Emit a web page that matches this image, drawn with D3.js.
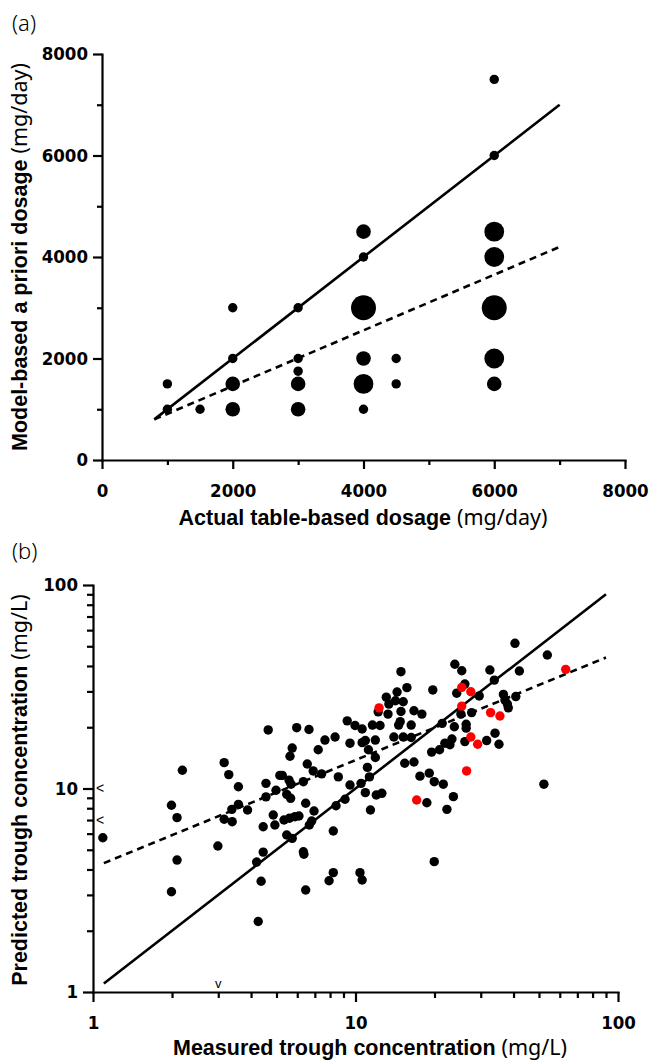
<!DOCTYPE html>
<html>
<head>
<meta charset="utf-8">
<script src="https://cdn.jsdelivr.net/npm/d3@7"></script>
<style>
  html, body { margin: 0; padding: 0; background: #fff; }
  svg { display: block; }
</style>
</head>
<body>
<svg id="chart" width="650" height="1060"></svg>
<script>
// --- Panel (a) data: dosage comparison (mg/day) ---
const dosageActual = [1000, 1000, 1500, 2000, 2000, 2000, 2000, 3000, 3000, 3000, 3000, 3000,
  4000, 4000, 4000, 4000, 4000, 4000, 4500, 4500, 6000, 6000, 6000, 6000, 6000, 6000, 6000];
const dosageModel = [1000, 1500, 1000, 1000, 1500, 2000, 3000, 1000, 1500, 1750, 2000, 3000,
  1000, 1500, 2000, 3000, 4000, 4500, 1500, 2000, 1500, 2000, 3000, 4000, 4500, 6000, 7500];
const dosageCount = [1, 1, 1, 2, 2, 1, 1, 2, 2, 1, 1, 1,
  1, 3, 2, 4, 1, 2, 1, 1, 2, 3, 4, 3, 3, 1, 1];
const dosageTicks = [0, 2000, 4000, 6000, 8000];
const dosageMinor = [1000, 3000, 5000, 7000];
const identityA = [800, 7000];
const regressionA = [[800, 800], [7000, 4200]];

// --- Panel (b) data: trough concentrations (mg/L) ---
const measuredBlack = [2.19, 4.65, 3.16, 3.29, 3.58, 4.56, 4.98, 5.15, 4.56, 1.99, 2.09, 1.09,
  3.38, 3.58, 3.88, 3.16, 3.39, 2.99, 4.45, 4.86, 4.93, 4.45, 4.2, 2.09, 4.37, 1.99, 4.26,
  6.55, 5.26, 5.58, 5.68, 5.47, 5.66, 6.33, 6.9, 7.43, 8.6, 11.1, 11.3, 9.53, 10.5, 10.9,
  12.0, 12.6, 15.4, 16.7, 17.6, 19.1, 19.95, 21.6, 18.7, 22.3, 6.46, 6.95, 8.43, 9.12, 11.4,
  5.34, 5.6, 5.88, 6.09, 6.81, 6.67, 5.47, 5.74, 8.23, 6.33, 6.36, 8.23, 7.93, 10.4, 10.6,
  6.46, 19.95, 14.9, 19.7, 15.7, 14.4, 13.1, 13.4, 14.2, 15.2, 12.2, 13.3, 14.9, 16.7, 17.9,
  14.8, 14.6, 16.3, 9.3, 9.96, 10.6, 11.6, 12.4, 5.97, 6.65, 14.0, 15.2, 16.3, 21.4, 8.36,
  7.65, 9.53, 10.6, 10.9, 11.9, 5.74, 5.63, 7.21, 11.2, 11.9, 21.9, 20.9, 19.5, 40.5, 53.8,
  23.9, 25.4, 32.5, 42.1, 33.8, 26.1, 24.3, 29.6, 36.6, 40.8, 37.1, 37.9, 38.2, 27.7, 25.2,
  23.8, 26.4, 26.4, 34.0, 26.1, 31.6, 35.2, 23.3, 22.9, 52.2, 23.6];
const predictedBlack = [12.3, 19.4, 13.4, 11.7, 10.2, 10.6, 9.8, 11.6, 9.1, 8.27, 7.19, 5.73,
  7.9, 8.36, 7.84, 7.06, 6.87, 5.22, 6.49, 7.41, 6.62, 4.87, 4.35, 4.45, 3.5, 3.11, 2.22,
  13.2, 11.6, 11.0, 10.5, 9.36, 8.95, 10.8, 12.2, 11.8, 11.4, 12.7, 11.4, 10.4, 10.6, 9.54,
  9.29, 9.47, 13.3, 13.5, 11.5, 11.9, 10.8, 10.5, 8.51, 7.9, 8.46, 7.75, 8.23, 8.85, 7.84,
  7.0, 7.14, 7.27, 7.33, 6.92, 6.62, 5.91, 5.69, 6.18, 4.89, 4.75, 3.86, 3.52, 3.86, 3.55,
  3.17, 4.37, 37.5, 30.5, 31.3, 29.8, 28.1, 26.0, 27.0, 26.7, 23.8, 23.2, 23.9, 24.1, 23.2,
  21.3, 20.5, 20.5, 21.5, 20.4, 19.6, 20.5, 20.4, 19.9, 19.5, 17.9, 17.9, 17.8, 20.9, 17.9,
  17.3, 16.7, 16.8, 17.2, 17.3, 15.8, 14.4, 15.5, 15.5, 14.2, 16.7, 15.5, 15.1, 51.7, 45.3,
  40.8, 37.9, 38.2, 37.8, 34.1, 32.6, 29.4, 28.5, 29.0, 28.3, 27.2, 26.0, 24.9, 23.6, 23.2,
  20.1, 20.7, 19.8, 18.7, 17.0, 17.2, 16.5, 17.5, 16.4, 10.5, 9.12];
const measuredRed = [12.3, 63.2, 25.4, 27.5, 25.4, 32.7, 35.5, 27.5, 29.2, 26.5, 17.1];
const predictedRed = [24.9, 38.5, 31.4, 29.9, 25.4, 23.6, 22.7, 17.9, 16.5, 12.2, 8.78];
// values below the lower limit of quantification
const censoredPredicted = [10, 7];   // measured < 1
const censoredMeasured = [3];        // predicted < 1
const logTicks = [1, 10, 100];
const logMinor = [2, 3, 4, 5, 6, 7, 8, 9, 20, 30, 40, 50, 60, 70, 80, 90];
const identityB = [1.1, 90];
const regressionB = [[1.1, 4.3], [90, 44]];

// --- Setup ---
const svg = d3.select("#chart");
const tickFont = "'Liberation Sans Narrow', 'DejaVu Sans Condensed', 'Liberation Sans', sans-serif";
const titleFont = "'Liberation Sans', Arial, sans-serif";
const unitFont = "'Noto Sans', 'Liberation Sans', sans-serif";
const AXIS_W = 2.2;

function drawAxis(g, axis, minorAxis) {
  g.call(axis);
  g.select(".domain").attr("stroke-width", AXIS_W).attr("stroke-linecap", "square");
  g.selectAll(".tick line").attr("stroke-width", AXIS_W);
  g.selectAll(".tick text")
    .attr("font-family", tickFont).attr("font-weight", "bold")
    .attr("font-size", 18.5).attr("fill", "#000");
  if (minorAxis) {
    const m = g.append("g").call(minorAxis);
    m.select(".domain").remove();
    m.selectAll(".tick line").attr("stroke-width", AXIS_W);
  }
}

function axisTitle(x, y, bold, unit, rotate) {
  const t = svg.append("text")
    .attr("text-anchor", "middle")
    .attr("font-size", 21.5)
    .attr("fill", "#000")
    .attr("transform", rotate ? `translate(${x},${y}) rotate(-90)` : `translate(${x},${y})`);
  t.append("tspan").attr("font-family", titleFont).attr("font-weight", "bold").text(bold + " ");
  t.append("tspan").attr("font-family", unitFont).text(unit);
}

function panelLabel(x, y, s) {
  svg.append("text").attr("x", x).attr("y", y)
    .attr("font-family", unitFont).attr("font-weight", 300)
    .attr("font-size", 22).text(s);
}

// --- Panel (a) ---
const xA = d3.scaleLinear().domain([0, 8000]).range([102, 625]);
const yA = d3.scaleLinear().domain([0, 8000]).range([460, 54]);
const rA = d3.scaleLinear().domain([1, 4]).range([4.7, 12.5]);

panelLabel(12, 31, "(a)");

drawAxis(svg.append("g").attr("transform", `translate(0,${yA(0)})`),
  d3.axisBottom(xA).tickValues(dosageTicks).tickSize(9).tickSizeOuter(0).tickPadding(15).tickFormat(d3.format("d")),
  d3.axisBottom(xA).tickValues(dosageMinor).tickSize(5).tickFormat(""));
drawAxis(svg.append("g").attr("transform", `translate(${xA(0)},0)`),
  d3.axisLeft(yA).tickValues(dosageTicks).tickSize(9).tickSizeOuter(0).tickPadding(5).tickFormat(d3.format("d")),
  d3.axisLeft(yA).tickValues(dosageMinor).tickSize(5).tickFormat(""));

const lineA = d3.line().x(d => xA(d[0])).y(d => yA(d[1]));
svg.append("path").attr("d", lineA(identityA.map(v => [v, v])))
  .attr("stroke", "#000").attr("stroke-width", 2.6).attr("fill", "none");
svg.append("path").attr("d", lineA(regressionA))
  .attr("stroke", "#000").attr("stroke-width", 2.6).attr("fill", "none")
  .attr("stroke-dasharray", "7,5");

svg.append("g").selectAll("circle")
  .data(dosageActual.map((d, i) => ({ x: d, y: dosageModel[i], n: dosageCount[i] })))
  .join("circle")
  .attr("cx", d => xA(d.x)).attr("cy", d => yA(d.y)).attr("r", d => rA(d.n))
  .attr("fill", "#000");

axisTitle(363, 525, "Actual table-based dosage", "(mg/day)", false);
axisTitle(27, 257, "Model-based a priori dosage", "(mg/day)", true);

// --- Panel (b) ---
const xB = d3.scaleLog().domain([1, 100]).range([93, 618]);
const yB = d3.scaleLog().domain([1, 100]).range([992, 585]);

panelLabel(12, 559, "(b)");

drawAxis(svg.append("g").attr("transform", `translate(0,${yB(1)})`),
  d3.axisBottom(xB).tickValues(logTicks).tickSize(10).tickSizeOuter(0).tickPadding(14).tickFormat(d3.format("d")),
  d3.axisBottom(xB).tickValues(logMinor).tickSize(6).tickFormat(""));
drawAxis(svg.append("g").attr("transform", `translate(${xB(1)},0)`),
  d3.axisLeft(yB).tickValues(logTicks).tickSize(10).tickSizeOuter(0).tickPadding(5).tickFormat(d3.format("d")),
  d3.axisLeft(yB).tickValues(logMinor).tickSize(6).tickFormat(""));

const lineB = d3.line().x(d => xB(d[0])).y(d => yB(d[1]));
svg.append("path").attr("d", lineB(identityB.map(v => [v, v])))
  .attr("stroke", "#000").attr("stroke-width", 2.6).attr("fill", "none");
svg.append("path").attr("d", lineB(regressionB))
  .attr("stroke", "#000").attr("stroke-width", 2.6).attr("fill", "none")
  .attr("stroke-dasharray", "7,5");

svg.append("g").selectAll("circle")
  .data(measuredBlack.map((d, i) => ({ x: d, y: predictedBlack[i] })))
  .join("circle")
  .attr("cx", d => xB(d.x)).attr("cy", d => yB(d.y)).attr("r", 4.7)
  .attr("fill", "#000");
svg.append("g").selectAll("circle")
  .data(measuredRed.map((d, i) => ({ x: d, y: predictedRed[i] })))
  .join("circle")
  .attr("cx", d => xB(d.x)).attr("cy", d => yB(d.y)).attr("r", 4.7)
  .attr("fill", "#ff0000");

// censored markers
svg.append("g").selectAll("text")
  .data(censoredPredicted).join("text")
  .attr("x", xB(1) + 3).attr("y", d => yB(d)).attr("dy", "0.35em")
  .attr("font-family", titleFont).attr("font-size", 14).text("<");
svg.append("g").selectAll("text")
  .data(censoredMeasured).join("text")
  .attr("x", d => xB(d)).attr("y", yB(1) - 4).attr("text-anchor", "middle")
  .attr("font-family", titleFont).attr("font-size", 13).text("v");

axisTitle(370, 1055, "Measured trough concentration", "(mg/L)", false);
axisTitle(27, 790, "Predicted trough concentration", "(mg/L)", true);
</script>
</body>
</html>
